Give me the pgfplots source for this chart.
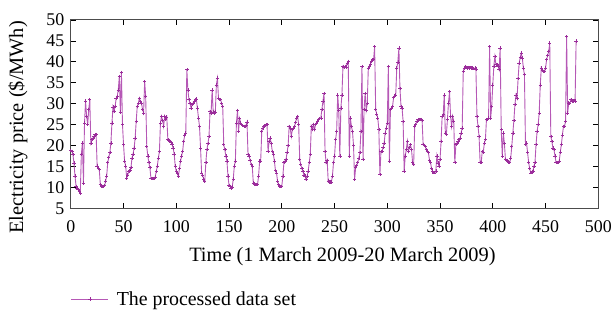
\documentclass[border=0pt]{standalone}
\usepackage{fontspec}
\setmainfont{Liberation Serif}
\usepackage{pgfplots}
\usepackage{pgfplotstable}
\pgfplotsset{compat=1.18}
\definecolor{lc}{RGB}{182,88,182}
\definecolor{mc}{RGB}{155,45,155}

\pgfplotstableread[row sep=\\]{
v\\
18.8\\ 18.6\\ 17.9\\ 15.8\\ 12.7\\ 10.3\\ 9.8\\ 9.5\\ 9.1\\ 8.6\\ 17.9\\ 20.6\\ 11.1\\ 25.4\\ 30.6\\ 27.0\\ 25.0\\ 28.6\\ 31.0\\ 20.6\\ 21.4\\ 21.8\\ 22.2\\ 22.6\\
22.6\\ 15.1\\ 14.6\\ 14.3\\ 10.7\\ 10.3\\ 10.3\\ 10.3\\ 10.4\\ 11.5\\ 12.7\\ 15.9\\ 17.2\\ 18.3\\ 20.6\\ 25.4\\ 29.2\\ 28.2\\ 29.4\\ 31.2\\ 31.7\\ 33.3\\ 36.5\\ 28.0\\
37.5\\ 25.0\\ 20.2\\ 16.3\\ 15.1\\ 12.3\\ 13.0\\ 13.9\\ 14.2\\ 14.7\\ 17.0\\ 18.0\\ 19.4\\ 21.8\\ 25.8\\ 29.4\\ 30.0\\ 31.3\\ 30.5\\ 30.2\\ 28.6\\ 27.8\\ 35.3\\ 31.7\\
19.8\\ 17.5\\ 15.9\\ 14.7\\ 12.1\\ 12.1\\ 12.1\\ 12.1\\ 12.5\\ 13.8\\ 15.1\\ 17.0\\ 18.6\\ 25.4\\ 27.0\\ 26.0\\ 24.6\\ 27.0\\ 26.2\\ 26.8\\ 21.4\\ 21.2\\ 21.0\\ 20.8\\
20.2\\ 19.4\\ 18.0\\ 15.1\\ 13.9\\ 13.3\\ 12.7\\ 14.5\\ 16.3\\ 17.5\\ 18.6\\ 21.0\\ 22.5\\ 23.0\\ 38.1\\ 33.3\\ 31.0\\ 30.0\\ 29.0\\ 29.8\\ 30.2\\ 30.5\\ 31.0\\ 31.1\\
29.0\\ 26.6\\ 24.6\\ 19.4\\ 13.5\\ 12.8\\ 12.0\\ 11.5\\ 15.9\\ 19.0\\ 20.5\\ 22.2\\ 28.2\\ 27.8\\ 33.3\\ 28.0\\ 27.8\\ 28.0\\ 34.5\\ 36.1\\ 31.3\\ 31.0\\ 31.0\\ 30.0\\
29.4\\ 20.2\\ 19.0\\ 17.5\\ 16.3\\ 12.7\\ 10.5\\ 10.3\\ 9.9\\ 10.1\\ 12.0\\ 15.1\\ 16.3\\ 25.4\\ 28.4\\ 23.4\\ 26.5\\ 25.4\\ 25.0\\ 24.8\\ 24.6\\ 24.6\\ 24.8\\ 25.6\\
17.9\\ 17.5\\ 16.5\\ 15.5\\ 15.1\\ 11.1\\ 10.8\\ 10.7\\ 10.7\\ 10.7\\ 12.7\\ 16.3\\ 16.3\\ 23.4\\ 24.2\\ 24.6\\ 24.8\\ 25.0\\ 25.0\\ 18.6\\ 21.0\\ 21.8\\ 20.5\\ 18.6\\
18.0\\ 16.3\\ 14.0\\ 13.5\\ 11.5\\ 10.7\\ 10.3\\ 10.3\\ 10.3\\ 12.7\\ 15.9\\ 16.3\\ 16.7\\ 18.3\\ 20.0\\ 24.6\\ 24.2\\ 22.2\\ 23.8\\ 24.2\\ 24.5\\ 25.5\\ 26.5\\ 27.0\\
25.0\\ 16.7\\ 15.5\\ 14.5\\ 13.8\\ 13.0\\ 12.7\\ 11.9\\ 12.7\\ 13.9\\ 15.9\\ 17.9\\ 24.6\\ 23.8\\ 25.0\\ 23.8\\ 25.0\\ 25.4\\ 25.8\\ 26.2\\ 26.4\\ 26.6\\ 28.6\\ 30.6\\
32.5\\ 18.6\\ 15.9\\ 16.5\\ 11.5\\ 11.3\\ 11.3\\ 11.3\\ 12.7\\ 15.9\\ 17.5\\ 21.4\\ 23.4\\ 32.1\\ 28.4\\ 17.5\\ 29.0\\ 32.1\\ 38.9\\ 38.6\\ 38.9\\ 38.8\\ 39.7\\ 40.1\\
17.5\\ 26.6\\ 24.6\\ 23.4\\ 20.0\\ 11.9\\ 14.7\\ 15.3\\ 15.9\\ 17.0\\ 18.3\\ 23.4\\ 38.9\\ 16.7\\ 28.6\\ 32.5\\ 28.4\\ 30.0\\ 38.5\\ 38.9\\ 39.5\\ 40.1\\ 40.5\\ 40.5\\
43.6\\ 28.6\\ 27.5\\ 26.6\\ 23.8\\ 13.1\\ 18.6\\ 18.6\\ 19.5\\ 20.6\\ 23.0\\ 24.2\\ 25.4\\ 38.9\\ 16.3\\ 28.6\\ 29.0\\ 29.4\\ 31.5\\ 31.8\\ 32.1\\ 38.5\\ 40.0\\ 43.3\\
33.7\\ 29.4\\ 29.0\\ 25.8\\ 13.9\\ 17.5\\ 19.0\\ 21.0\\ 18.6\\ 19.5\\ 20.2\\ 19.0\\ 15.9\\ 15.5\\ 24.6\\ 25.0\\ 25.8\\ 26.2\\ 26.2\\ 26.2\\ 26.2\\ 26.0\\ 20.2\\ 20.0\\
19.8\\ 19.0\\ 18.6\\ 18.3\\ 16.5\\ 15.9\\ 14.5\\ 13.9\\ 13.5\\ 13.5\\ 13.9\\ 17.5\\ 15.8\\ 15.1\\ 16.7\\ 21.0\\ 27.0\\ 27.4\\ 32.1\\ 23.0\\ 22.6\\ 26.2\\ 30.2\\ 32.9\\
27.0\\ 24.6\\ 27.0\\ 25.8\\ 15.9\\ 20.2\\ 20.6\\ 21.0\\ 21.5\\ 21.8\\ 23.0\\ 24.2\\ 37.7\\ 38.5\\ 38.9\\ 38.6\\ 38.5\\ 38.6\\ 38.5\\ 38.6\\ 38.5\\ 38.5\\ 38.4\\ 38.5\\
38.3\\ 27.0\\ 24.6\\ 22.2\\ 15.9\\ 15.9\\ 18.6\\ 18.4\\ 20.6\\ 21.4\\ 26.2\\ 26.2\\ 26.6\\ 43.6\\ 26.6\\ 29.4\\ 34.5\\ 39.0\\ 41.3\\ 39.3\\ 39.3\\ 39.0\\ 38.1\\ 43.3\\
23.8\\ 17.5\\ 23.0\\ 20.5\\ 16.7\\ 16.5\\ 16.5\\ 16.0\\ 15.9\\ 17.0\\ 19.8\\ 23.0\\ 26.0\\ 29.8\\ 32.1\\ 31.3\\ 36.0\\ 39.7\\ 41.0\\ 42.1\\ 40.9\\ 38.5\\ 37.0\\ 20.2\\
20.6\\ 18.3\\ 16.0\\ 14.5\\ 13.5\\ 13.7\\ 13.9\\ 15.1\\ 16.0\\ 20.2\\ 23.4\\ 25.0\\ 27.8\\ 34.5\\ 38.5\\ 37.9\\ 37.7\\ 37.7\\ 38.5\\ 40.5\\ 41.5\\ 42.5\\ 44.5\\ 22.2\\
21.0\\ 19.4\\ 19.0\\ 17.5\\ 15.9\\ 15.9\\ 16.0\\ 16.3\\ 18.5\\ 20.2\\ 22.5\\ 24.6\\ 24.6\\ 25.8\\ 46.0\\ 27.8\\ 30.2\\ 30.0\\ 31.0\\ 30.6\\ 30.6\\ 30.8\\ 30.6\\ 45.0\\
}\pricedata

\begin{document}
\begin{tikzpicture}
\begin{axis}[
  scale only axis, width=529bp, height=189bp,
  xmin=0, xmax=500, ymin=5, ymax=50,
  xtick={0,50,...,500}, ytick={5,10,...,50},
  tick align=inside, major tick length=5bp,
  axis line style={draw=black!70, line width=0.9bp},
  tick style={black, line width=0.7bp},
  ticklabel style={font=\fontsize{18}{20}\selectfont},
  xticklabel style={yshift=-9bp},
  yticklabel style={xshift=-3bp},
  /pgf/number format/assume math mode=true,
  xlabel={Time (1 March 2009-20 March 2009)},
  ylabel={Electricity price (\$/MWh)},
  label style={font=\fontsize{20.5}{23}\selectfont},
  xlabel style={at={(axis description cs:0.515,-0.257)}, anchor=center},
  ylabel style={at={(axis description cs:-0.1002,0.43)}, anchor=center},
  legend style={at={(axis description cs:0,-0.481)}, anchor=west, draw=none, fill=none,
    font=\fontsize{20}{22}\selectfont, inner xsep=0pt, inner ysep=0pt, column sep=6bp},
  legend cell align=left,
  legend image code/.code={\draw[#1, mark repeat=2, mark phase=2] plot coordinates {(0bp,0bp) (18.5bp,0bp) (37bp,0bp)};},
]
\addplot[draw=lc, line width=0.9bp, mark=+, mark size=1.7bp, mark options={draw=mc, line width=0.6bp}]
  table[x expr=\coordindex, y=v] {\pricedata};
\addlegendentry{The processed data set}
\end{axis}
\path (current axis.south west) ++(-71bp,-112bp) rectangle ++(615bp,321bp);
\end{tikzpicture}
\end{document}
